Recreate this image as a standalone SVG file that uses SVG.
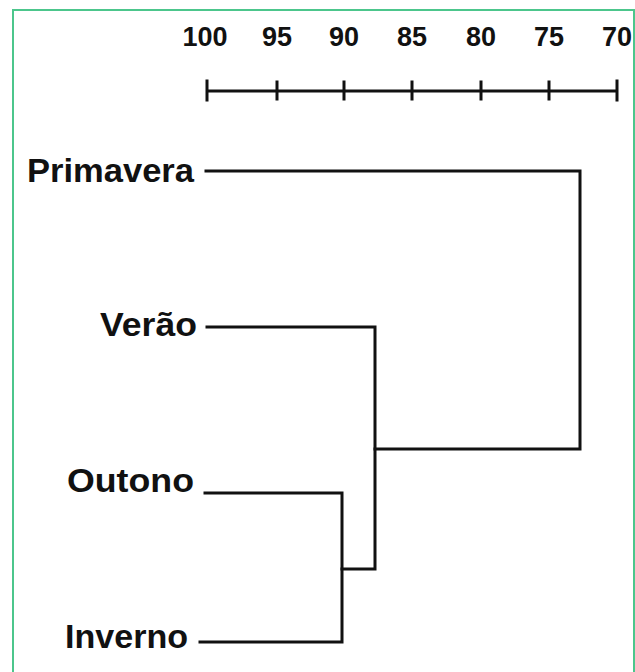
<svg xmlns="http://www.w3.org/2000/svg" width="635" height="672" viewBox="0 0 635 672">
<style>
.lbl{font-family:"Liberation Sans",Arial,sans-serif;font-weight:bold;fill:#111;}
.num{font-size:27px;text-anchor:middle;}
.nm{font-size:34px;}
.ln{stroke:#111;stroke-width:3;fill:none;stroke-linecap:square;}
</style>
<rect x="0" y="0" width="635" height="672" fill="#fff"/>
<rect x="13" y="10" width="621" height="680" fill="none" stroke="#4cc68c" stroke-width="2"/>
<g id="axis">
<path class="ln" d="M207 91H617 M207 81V100 M277 82V99 M344 82V99 M412 82V99 M481 82V99 M549 82V99 M617 81V100"/>
<text class="lbl num" x="205" y="46">100</text>
<text class="lbl num" x="277" y="46">95</text>
<text class="lbl num" x="344" y="46">90</text>
<text class="lbl num" x="412" y="46">85</text>
<text class="lbl num" x="481" y="46">80</text>
<text class="lbl num" x="549" y="46">75</text>
<text class="lbl num" x="617" y="46">70</text>
</g>
<g id="primavera"><text class="lbl nm" x="27" y="182" textLength="167" lengthAdjust="spacingAndGlyphs">Primavera</text></g>
<g id="verao"><text class="lbl nm" x="100" y="336" textLength="97" lengthAdjust="spacingAndGlyphs">Verão</text></g>
<g id="outono"><text class="lbl nm" x="67" y="492" textLength="127" lengthAdjust="spacingAndGlyphs">Outono</text></g>
<g id="inverno"><text class="lbl nm" x="65" y="648" textLength="123" lengthAdjust="spacingAndGlyphs">Inverno</text></g>
<g id="connectors">
<path class="ln" d="M206 171H580V449H375"/>
<path class="ln" d="M207 327H375V569H342"/>
<path class="ln" d="M205 493H342V642H200"/>
</g>
</svg>
